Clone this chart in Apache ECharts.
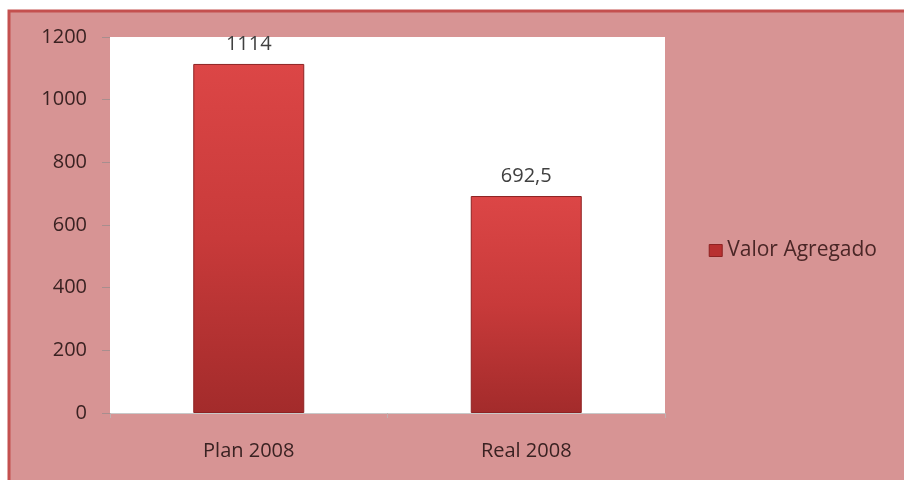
<!DOCTYPE html>
<html><head><meta charset="utf-8">
<script src="https://cdn.jsdelivr.net/npm/echarts@6/dist/echarts.min.js"></script>
<style>html,body{margin:0;padding:0;background:#fff}#c{width:904px;height:480px}</style>
</head><body><div id="c"></div>
<script>
const categories = ["Plan 2008", "Real 2008"];
const values = [1114, 692.5];
const valueLabels = ["1114", "692,5"];
const seriesName = "Valor Agregado";
const yTicks = [0, 200, 400, 600, 800, 1000, 1200];

const chart = echarts.init(document.getElementById('c'), null, {renderer: 'canvas'});
const font = '"Open Sans", Lato, sans-serif';
chart.setOption({
  animation: false,
  backgroundColor: '#ffffff',
  graphic: [{
    type: 'rect', z: -10,
    shape: {x: 9, y: 11, width: 910, height: 480},
    style: {fill: '#d79494', stroke: '#c4504f', lineWidth: 3}
  }],
  grid: {left: 110, right: 239, top: 37, bottom: 67, show: true, backgroundColor: '#ffffff', borderWidth: 0},
  legend: {
    right: 22, top: 235, orient: 'vertical',
    itemWidth: 13, itemHeight: 12, itemGap: 6,
    icon: 'rect',
    textStyle: {fontFamily: font, fontSize: 21, color: '#4a2626'},
    data: [{name: seriesName, itemStyle: {color: '#b83030', borderColor: '#8e2222', borderWidth: 1}}]
  },
  xAxis: {
    type: 'category', data: categories,
    axisLine: {show: true, lineStyle: {color: '#c8c8c8', width: 1}},
    axisTick: {show: true, length: 5, lineStyle: {color: '#c0b0b0'}},
    axisLabel: {fontFamily: font, fontSize: 20, color: '#3a2222', margin: 28}
  },
  yAxis: {
    type: 'value', min: 0, max: 1200, interval: 200,
    axisLine: {show: false},
    axisTick: {show: true, length: 8, lineStyle: {color: '#a88e8e'}},
    splitLine: {show: false},
    axisLabel: {fontFamily: font, fontSize: 20, color: '#3a2222', margin: 23,
      formatter: v => yTicks.includes(v) ? String(v) : ''}
  },
  series: [{
    name: seriesName, type: 'bar', barCategoryGap: '60%',
    data: values.map((v, i) => ({value: v, label: {formatter: valueLabels[i]}})),
    itemStyle: {
      color: new echarts.graphic.LinearGradient(0, 0, 0, 1, [
        {offset: 0, color: '#dc4646'},
        {offset: 0.5, color: '#c83a3a'},
        {offset: 1, color: '#a32b2b'}
      ]),
      borderColor: '#8e2222', borderWidth: 1
    },
    label: {show: true, position: 'top', distance: 10, fontFamily: font, fontSize: 20, color: '#404040'}
  }]
});
</script></body></html>
